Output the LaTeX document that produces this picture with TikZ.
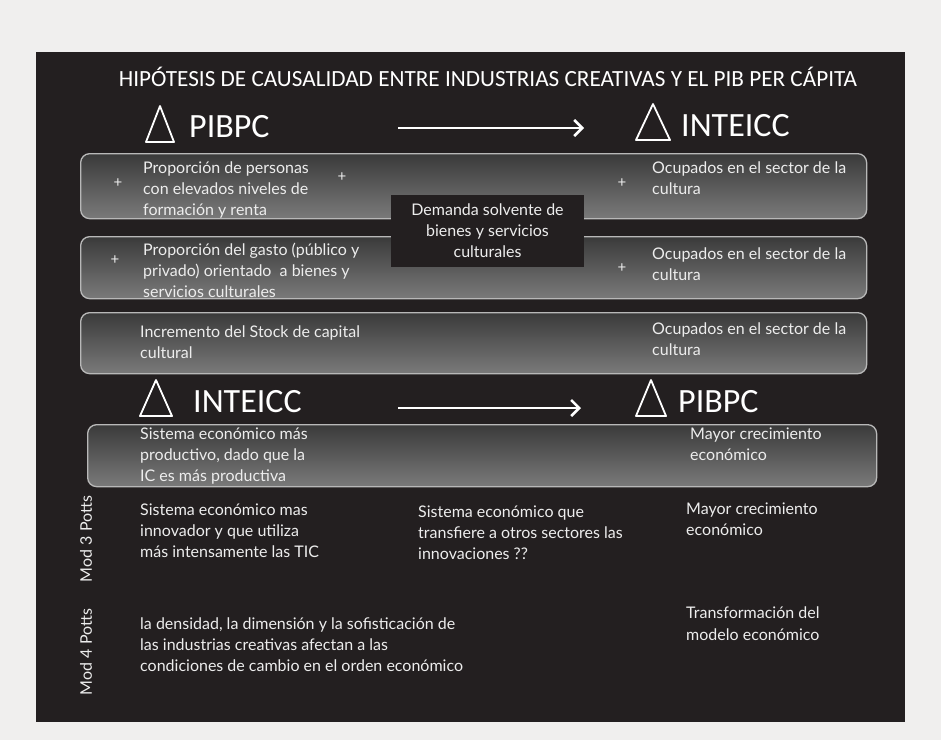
\documentclass[tikz,border=0pt]{standalone}
\usepackage{fontspec}
\usetikzlibrary{arrows.meta}
\newfontfamily\titlefont{Carlito}
\newfontfamily\bodyfont{Lato}
\definecolor{pagebg}{HTML}{F0EFEE}
\definecolor{panel}{HTML}{231F20}
\definecolor{boxtop}{HTML}{3A3A3A}
\definecolor{boxbot}{HTML}{7A7A7A}
\definecolor{boxedge}{HTML}{B8B8B8}
\definecolor{txt}{HTML}{EDEDED}
\begin{document}
\begin{tikzpicture}[x=1pt,y=-1pt,
  graybox/.style={draw=boxedge, line width=1.3pt, rounded corners=9pt, top color=boxtop, bottom color=boxbot, anchor=north west, inner sep=0pt},
  body/.style={text=txt, font=\bodyfont\fontsize{16}{21}\selectfont, align=left, anchor=north west, inner sep=0pt},
  plus/.style={text=txt, font=\bodyfont\fontsize{15}{16}\selectfont, inner sep=0pt},
  big/.style={text=white, font=\titlefont\fontsize{34}{40}\selectfont, anchor=west, inner sep=0pt},
  tri/.style={draw=white, line width=1.8pt, line join=round},
  bigarrow/.style={draw=white, line width=2.6pt, -{Straight Barb[length=8pt,width=16pt,line width=2.6pt]}}]
\useasboundingbox (0,0) rectangle (941,740);
\fill[pagebg] (0,0) rectangle (941,740);
\fill[panel] (36,52) rectangle (905,722);
% title
\node[text=white, font=\titlefont\fontsize{23.2}{26}\selectfont, inner sep=0pt] (title) at (488,77) {HIPÓTESIS DE CAUSALIDAD ENTRE INDUSTRIAS CREATIVAS Y EL PIB PER CÁPITA};
% row 1 deltas
\draw[tri] (146,142) -- (160,106) -- (174,142) -- cycle;
\node[big] (pib1) at (189,127) {PIBPC};
\draw[tri] (636,140) -- (653,104) -- (670,140) -- cycle;
\node[big] (int1) at (681,126) {INTEICC};
\coordinate (a1s) at (398,128);
\coordinate (a1e) at (584,128);
\draw[bigarrow] (a1s) -- (a1e);
% boxes
\node[graybox, minimum width=786pt, minimum height=65pt] (box1) at (80,153) {};
\node[graybox, minimum width=786pt, minimum height=62pt] (box2) at (80,236) {};
\node[graybox, minimum width=786pt, minimum height=61pt] (box3) at (80,312) {};
% demand box
\node[fill=panel, text=txt, font=\bodyfont\fontsize{16}{21}\selectfont, align=center, minimum width=193pt, minimum height=72pt, inner sep=0pt] (dem) at (487.5,231) {Demanda solvente de\\bienes y servicios\\culturales};
% box1 texts
\node[plus] (p11) at (118,183) {+};
\node[plus] (p12) at (342,177) {+};
\node[plus] (p13) at (622,183) {+};
\node[body] (t11) at (143,162) {Proporción de personas\\con elevados niveles de\\formación y renta};
\node[body] (t12) at (652,162) {Ocupados en el sector de la\\cultura};
% box2 texts
\node[plus] (p21) at (115,260) {+};
\node[plus] (p22) at (622,268) {+};
\node[body] (t21) at (143,243) {Proporción del gasto (público y\\privado) orientado\ \ a bienes y\\servicios culturales};
\node[body] (t22) at (652,248) {Ocupados en el sector de la\\cultura};
% box3 texts
\node[body] (t31) at (140,326) {Incremento del Stock de capital\\cultural};
\node[body] (t32) at (652,323) {Ocupados en el sector de la\\cultura};
% row 2 deltas
\draw[tri] (140,416) -- (156,380) -- (172,416) -- cycle;
\node[big] (int2) at (193,402) {INTEICC};
\draw[tri] (636,416) -- (651,380) -- (666,416) -- cycle;
\node[big] (pib2) at (678,402) {PIBPC};
\coordinate (a2s) at (398,408);
\coordinate (a2e) at (581,408);
\draw[bigarrow] (a2s) -- (a2e);
% box4
\node[graybox, minimum width=789pt, minimum height=62pt] (box4) at (87,424) {};
\node[body] (t41) at (140,428) {Sistema económico más\\productivo, dado que la\\IC es más productiva};
\node[body] (t42) at (690,428) {Mayor crecimiento\\económico};
% Potts models
\node[text=txt, font=\bodyfont\fontsize{16}{18}\selectfont, rotate=90, inner sep=0pt] (m3) at (86,539) {Mod 3 Potts};
\node[text=txt, font=\bodyfont\fontsize{16}{18}\selectfont, rotate=90, inner sep=0pt] (m4) at (86,652) {Mod 4 Potts};
\node[body] (t51) at (140,504) {Sistema económico mas\\innovador y que utiliza\\más intensamente las TIC};
\node[body] (t52) at (418,506) {Sistema económico que\\transfiere a otros sectores las\\innovaciones ??};
\node[body] (t53) at (686,503) {Mayor crecimiento\\económico};
\node[body] (t61) at (140,617) {la densidad, la dimensión y la sofisticación de\\las industrias creativas afectan a las\\condiciones de cambio en el orden económico};
\node[body] (t62) at (686,607) {Transformación del\\modelo económico};
\end{tikzpicture}
\end{document}
